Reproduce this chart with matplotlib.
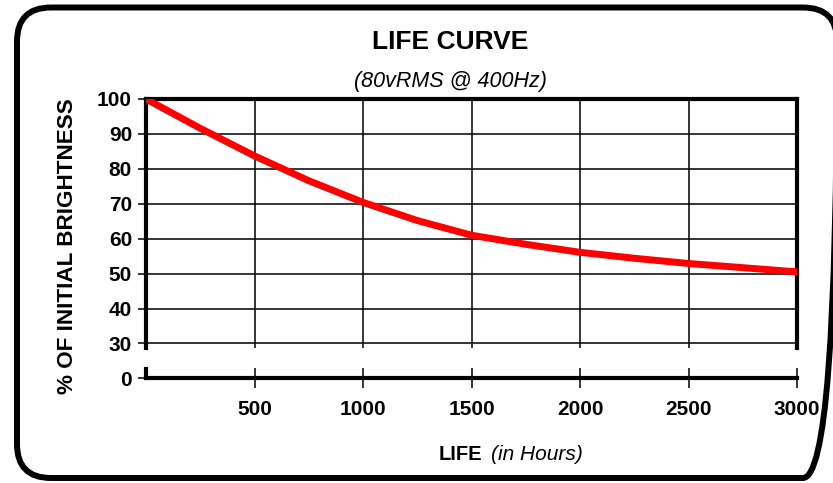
import matplotlib.pyplot as plt
from matplotlib.patches import FancyBboxPatch

plt.rcParams["font.family"] = ["Liberation Sans", "DejaVu Sans"]

# ── Data ──────────────────────────────────────────────────────────────────────
hours = [0, 250, 500, 750, 1000, 1250, 1500, 1750, 2000, 2250, 2500, 2750, 3000]
brightness = [100, 91.6, 83.7, 76.6, 70.4, 65.2, 61.0, 58.4, 56.1, 54.4, 52.9, 51.7, 50.5]
x_ticks = [500, 1000, 1500, 2000, 2500, 3000]
y_ticks = [30, 40, 50, 60, 70, 80, 90, 100]

# ── Layout (pixels) ───────────────────────────────────────────────────────────
W, H = 833, 483


def frac(left, top, right, bottom):
    """pixel box -> figure fraction rect"""
    return [left / W, 1 - bottom / H, (right - left) / W, (bottom - top) / H]


fig = plt.figure(figsize=(W / 100, H / 100), dpi=100)

# rounded frame round the whole chart
bg = fig.add_axes([0, 0, 1, 1])
bg.set_xlim(0, W)
bg.set_ylim(H, 0)
bg.axis("off")
bg.add_patch(FancyBboxPatch((17, 7.5), 820, 470.5,
                            boxstyle="round,pad=0,rounding_size=34",
                            fill=False, lw=4.3, ec="black"))

# ── Upper panel: 30..100 ──────────────────────────────────────────────────────
ax = fig.add_axes(frac(146, 99, 797, 348))
ax.plot(hours, brightness, color="#ff0000", lw=5,
        solid_joinstyle="round", zorder=3)
ax.set_xlim(0, 3000)
ax.set_ylim(28.7, 100)
ax.set_xticks(x_ticks)
ax.set_yticks(y_ticks)
ax.tick_params(axis="x", bottom=False, labelbottom=False)
ax.tick_params(axis="y", length=6, width=1.1, pad=4, labelsize=15)
for lab in ax.get_yticklabels():
    lab.set_fontweight("bold")
ax.grid(True, color="black", lw=1.1)
ax.spines["bottom"].set_visible(False)
for s in ("left", "top", "right"):
    ax.spines[s].set_linewidth(3)

# ── Lower stub: the 0 level and the hours axis ───────────────────────────────
axb = fig.add_axes(frac(146, 369, 797, 378))
axb.patch.set_visible(False)
axb.set_xlim(0, 3000)
axb.set_ylim(0, 1)
axb.set_xticks(x_ticks)
axb.set_xticklabels([str(t) for t in x_ticks], fontweight="bold")
axb.set_yticks([0])
axb.set_yticklabels(["0"], fontweight="bold")
axb.tick_params(axis="x", direction="inout", length=14, width=1.1, pad=9, labelsize=15)
axb.tick_params(axis="y", length=6, width=1.1, pad=4, labelsize=15)
axb.spines["top"].set_visible(False)
axb.spines["right"].set_visible(False)
axb.spines["left"].set_linewidth(3)
axb.spines["bottom"].set_linewidth(3)

# ── Texts ─────────────────────────────────────────────────────────────────────
fig.text(450 / W, 1 - 42 / H, "LIFE CURVE", ha="center", va="center",
         fontsize=19, fontweight="bold")
fig.text(450 / W, 1 - 81 / H, "(80vRMS @ 400Hz)", ha="center", va="center",
         fontsize=15.5, style="italic")
fig.text(482 / W, 1 - 455 / H, "LIFE", ha="right", va="center",
         fontsize=14.5, fontweight="bold")
fig.text(491 / W, 1 - 455 / H, "(in Hours)", ha="left", va="center",
         fontsize=15, style="italic")
fig.text(68 / W, 1 - 246 / H, "% OF INITIAL BRIGHTNESS", ha="center", va="center",
         rotation=90, fontsize=16.2, fontweight="bold")

fig.savefig("out.png", dpi=100)
